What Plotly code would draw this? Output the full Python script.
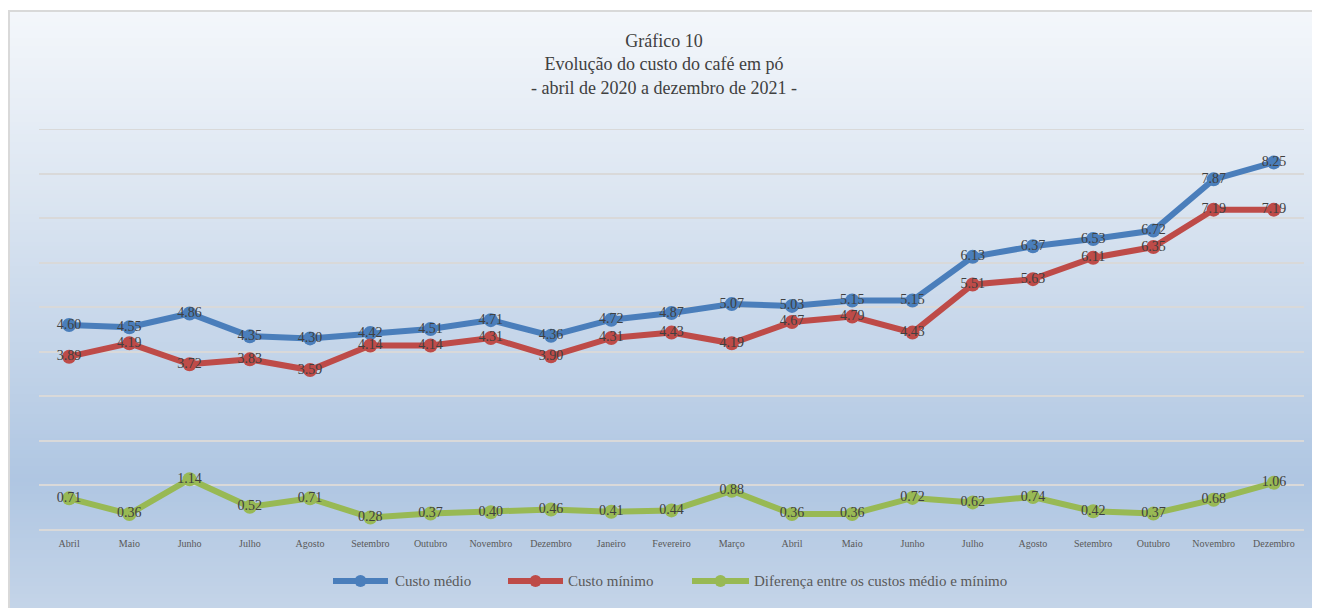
import plotly.graph_objects as go

meses = ["Abril", "Maio", "Junho", "Julho", "Agosto", "Setembro", "Outubro", "Novembro",
         "Dezembro", "Janeiro", "Fevereiro", "Março", "Abril", "Maio", "Junho", "Julho",
         "Agosto", "Setembro", "Outubro", "Novembro", "Dezembro"]
custo_medio = [4.60, 4.55, 4.86, 4.35, 4.30, 4.42, 4.51, 4.71, 4.36, 4.72, 4.87, 5.07,
               5.03, 5.15, 5.15, 6.13, 6.37, 6.53, 6.72, 7.87, 8.25]
custo_minimo = [3.89, 4.19, 3.72, 3.83, 3.59, 4.14, 4.14, 4.31, 3.90, 4.31, 4.43, 4.19,
                4.67, 4.79, 4.43, 5.51, 5.63, 6.11, 6.35, 7.19, 7.19]
diferenca = [0.71, 0.36, 1.14, 0.52, 0.71, 0.28, 0.37, 0.40, 0.46, 0.41, 0.44, 0.88,
             0.36, 0.36, 0.72, 0.62, 0.74, 0.42, 0.37, 0.68, 1.06]
nomes = ["Custo médio", "Custo mínimo", "Diferença entre os custos médio e mínimo"]
cores = ["#4a7ebb", "#be4b48", "#98b954"]

OFF = 8  # page body margin
W, H = 1320 - OFF, 608 - OFF
# plot area in page pixels: x 39..1304, y 129..530
L = 39 - OFF
R = W - (1304 - OFF)
T = 129 - OFF
B = H - (530 - OFF)
PW, PH = W - L - R, H - T - B

SERIF = "Liberation Serif, Times New Roman, DejaVu Serif, serif"


def px(x):
    return (x - OFF - L) / PW


def py(y):
    return (H - B - (y - OFF)) / PH


def hex2rgb(h):
    h = h.lstrip("#")
    return tuple(int(h[i:i + 2], 16) for i in (0, 2, 4))


stops = [(10, "#f4f7fb"), (200, "#dbe5f1"), (480, "#afc6e2"), (608, "#c4d4e8")]


def color_at(y):
    for (y0, c0), (y1, c1) in zip(stops[:-1], stops[1:]):
        if y0 <= y <= y1:
            t = (y - y0) / (y1 - y0)
            a, b = hex2rgb(c0), hex2rgb(c1)
            return "rgb(%d,%d,%d)" % tuple(round(a[i] + (b[i] - a[i]) * t) for i in range(3))
    return stops[-1][1]


shapes = []
step = 4
y = 10
while y < 612:
    y2 = y + step
    shapes.append(dict(type="rect", xref="paper", yref="paper", layer="below",
                       x0=px(9), x1=px(1318), y0=py(y2 + 0.5), y1=py(y),
                       fillcolor=color_at(y + step / 2), line=dict(width=0)))
    y = y2
shapes.append(dict(type="rect", xref="paper", yref="paper", layer="below",
                   x0=px(9), x1=px(1318), y0=py(614), y1=py(11),
                   fillcolor="rgba(0,0,0,0)", line=dict(color="#d9d9d9", width=2)))
# top gridline (value 9, at edge of range)
shapes.append(dict(type="line", xref="paper", yref="y", layer="below",
                   x0=0, x1=1, y0=9, y1=9, line=dict(color="#d9d9d9", width=2)))

annotations = [dict(
    text="Gráfico 10<br>Evolução do custo do café em pó<br>- abril de 2020 a dezembro de 2021 -",
    xref="paper", yref="paper", x=px(664), y=py(29), xanchor="center", yanchor="top",
    showarrow=False, font=dict(family=SERIF, size=18, color="#404040"))]

# legend (drawn at the reference's legend position)
leg_y = 581
leg_items = [(333, 388, 393), (508, 563, 566), (692, 749, 752)]
for (s0, s1, tx), nome, cor in zip(leg_items, nomes, cores):
    shapes.append(dict(type="line", xref="paper", yref="paper",
                       x0=px(s0), x1=px(s1), y0=py(leg_y), y1=py(leg_y),
                       line=dict(color=cor, width=6)))
    cx = (s0 + s1) / 2
    shapes.append(dict(type="circle", xref="paper", yref="paper",
                       x0=px(cx - 6), x1=px(cx + 6), y0=py(leg_y + 6), y1=py(leg_y - 6),
                       fillcolor=cor, line=dict(color=cor, width=0)))
    annotations.append(dict(text=nome, xref="paper", yref="paper", x=px(tx), y=py(leg_y),
                            xanchor="left", yanchor="middle", showarrow=False,
                            font=dict(family=SERIF, size=15, color="#595959")))

x = list(range(len(meses)))
font_lbl = dict(family=SERIF, size=14, color="#404040")

fig = go.Figure()
for nome, vals, cor in zip(nomes, [custo_medio, custo_minimo, diferenca], cores):
    fig.add_trace(go.Scatter(
        x=x, y=vals, name=nome, mode="lines+markers+text",
        line=dict(color=cor, width=6),
        marker=dict(color=cor, size=14),
        text=["%.2f" % v for v in vals], textposition="middle center",
        textfont=font_lbl, cliponaxis=False, showlegend=False,
    ))

fig.update_layout(
    width=W, height=H,
    margin=dict(l=L, r=R, t=T, b=B),
    paper_bgcolor="white",
    plot_bgcolor="rgba(0,0,0,0)",
    shapes=shapes,
    showlegend=False,
    annotations=annotations,
)
fig.update_xaxes(range=[-0.5, len(meses) - 0.5], tickvals=x, ticktext=meses,
                 showgrid=False, zeroline=False, showline=False, ticks="",
                 ticklabelstandoff=6,
                 tickfont=dict(family=SERIF, size=10, color="#595959"))
fig.update_yaxes(range=[0, 9], dtick=1, showticklabels=False, showgrid=True,
                 gridcolor="#d9d9d9", gridwidth=2, zeroline=True,
                 zerolinecolor="#d9d9d9", zerolinewidth=2, ticks="")

fig.write_html("out.html")
